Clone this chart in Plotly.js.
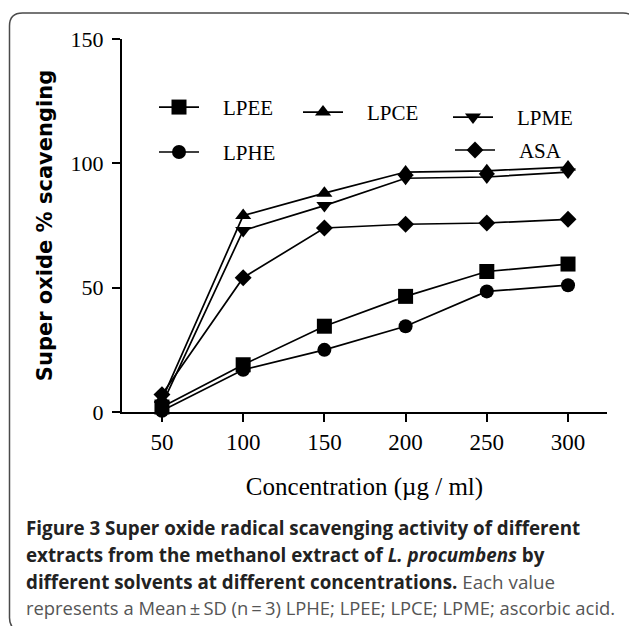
<!DOCTYPE html>
<html>
<head>
<meta charset="utf-8">
<script src="https://cdn.plot.ly/plotly-3.0.1.min.js"></script>
<style>
  html, body { margin: 0; padding: 0; background: #ffffff; }
  #chart { width: 629px; height: 626px; }
</style>
</head>
<body>
<div id="chart"></div>
<script>
// ---- data ----
const concentrations = [50, 100, 150, 200, 250, 300];
const seriesNames = ["LPEE", "LPCE", "LPME", "LPHE", "ASA"];
const lpee = [2, 19, 34.5, 46.5, 56.5, 59.5];
const lpce = [5, 79, 88, 96.5, 97, 98.5];
const lpme = [3, 73, 83, 94, 94.5, 96.5];
const lphe = [0.5, 17, 25, 34.5, 48.5, 51];
const asa  = [7, 54, 74, 75.5, 76, 77.5];
const xTicks = [50, 100, 150, 200, 250, 300];
const yTicks = [0, 50, 100, 150];

// ---- geometry helpers (plot area in px) ----
const W = 629, H = 626;
const PL = 122, PR = 607, PT = 38.5, PB = 412;
const px2x = p => (p - PL) / (PR - PL);
const px2y = p => (PB - p) / (PB - PT);

const symbols = ["square", "triangle-up", "triangle-down", "circle", "diamond"];
const sizes = [15, 14, 14, 14, 13];
const values = [lpee, lpce, lpme, lphe, asa];
const legendIds = ["legend", "legend2", "legend3", "legend4", "legend5"];
const NB = "\u00a0\u00a0\u2009\u2009";

const traces = seriesNames.map((name, i) => ({
  type: "scatter",
  mode: "lines+markers",
  name: NB + name,
  x: concentrations,
  y: values[i],
  legend: legendIds[i],
  line: { color: "#000000", width: 1.7 },
  marker: { symbol: symbols[i], size: sizes[i], color: "#000000" },
  cliponaxis: false
}));

// legend anchor positions (marker centre px)
const legPos = [
  [179, 107], [323, 112], [473, 117], [179, 152], [475, 150]
];
const serif = "Liberation Serif, Times New Roman, serif";
const legFont = { family: serif, size: 21, color: "#000000" };
const layout = {
  width: W, height: H,
  margin: { l: PL, r: W - PR, t: PT, b: H - PB },
  paper_bgcolor: "#ffffff",
  plot_bgcolor: "#ffffff",
  showlegend: true,
  xaxis: {
    range: [25.4, 324],
    tickvals: xTicks,
    ticktext: xTicks.map(String),
    showline: true, linecolor: "#000000", linewidth: 2,
    ticks: "outside", ticklen: 8, tickwidth: 2, tickcolor: "#000000",
    ticklabelstandoff: 0,
    showgrid: false, zeroline: false,
    tickfont: { family: serif, size: 23, color: "#000000" },
    title: { text: "Concentration (\u00b5g / ml)", standoff: 24,
      font: { family: serif, size: 25, color: "#000000" } }
  },
  yaxis: {
    range: [0, 150],
    tickvals: yTicks,
    ticktext: yTicks.map(String),
    showline: true, linecolor: "#000000", linewidth: 2,
    ticks: "outside", ticklen: 8, tickwidth: 2, tickcolor: "#000000",
    ticklabelstandoff: 4,
    showgrid: false, zeroline: false,
    tickfont: { family: serif, size: 22, color: "#000000" },
    title: { text: "Super oxide % scavenging", standoff: 12,
      font: { family: "DejaVu Sans, Verdana, sans-serif", size: 21, color: "#000000", weight: "bold" } }
  },
  shapes: [
    {
      type: "path", xref: "paper", yref: "paper",
      path: (function () {
        const x0 = 9.5, y0 = 12.5, x1 = 636, y1 = 631, r = 13;
        const X = v => px2x(v).toFixed(5), Y = v => px2y(v).toFixed(5);
        return "M" + X(x0) + "," + Y(y0 + r) +
          " Q" + X(x0) + "," + Y(y0) + " " + X(x0 + r) + "," + Y(y0) +
          " L" + X(x1 - r) + "," + Y(y0) +
          " Q" + X(x1) + "," + Y(y0) + " " + X(x1) + "," + Y(y0 + r) +
          " L" + X(x1) + "," + Y(y1 - r) +
          " Q" + X(x1) + "," + Y(y1) + " " + X(x1 - r) + "," + Y(y1) +
          " L" + X(x0 + r) + "," + Y(y1) +
          " Q" + X(x0) + "," + Y(y1) + " " + X(x0) + "," + Y(y1 - r) + " Z";
      })(),
      line: { color: "#4a4a4a", width: 1.5 },
      fillcolor: "rgba(0,0,0,0)",
      layer: "below"
    }
  ],
  annotations: [
    { text: "Figure 3 Super oxide radical scavenging activity of different", y: 528,
      font: { weight: "bold", color: "#222222", size: 18.8 } },
    { text: "extracts from the methanol extract of <i>L. procumbens</i> by", y: 555,
      font: { weight: "bold", color: "#222222", size: 18.8 } },
    { text: "<b>different solvents at different concentrations.</b> <span style=\"color:#555555\">Each value</span>", y: 582,
      font: { weight: "normal", color: "#222222", size: 18.8 } },
    { text: "represents a Mean\u2009\u00b1\u2009SD (n\u2009=\u20093) LPHE; LPEE; LPCE; LPME; ascorbic acid.", y: 608,
      font: { weight: "normal", color: "#555555", size: 18.4 } }
  ].map(a => ({
    text: a.text, xref: "paper", yref: "paper",
    x: px2x(24), y: px2y(a.y), xanchor: "left", yanchor: "middle",
    showarrow: false, align: "left",
    font: Object.assign({ family: "Open Sans, Noto Sans, sans-serif" }, a.font)
  }))
};

legendIds.forEach((id, i) => {
  layout[id] = {
    x: px2x(legPos[i][0] - 25), y: px2y(legPos[i][1]),
    xanchor: "left", yanchor: "middle",
    bgcolor: "rgba(0,0,0,0)", borderwidth: 0,
    font: legFont, itemwidth: 40
  };
});

Plotly.newPlot("chart", traces, layout, { displayModeBar: false, staticPlot: true });
</script>
</body>
</html>
